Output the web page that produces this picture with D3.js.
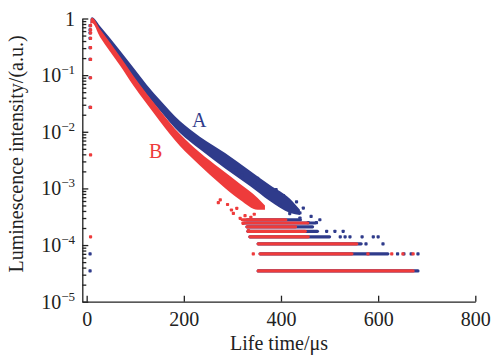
<!DOCTYPE html>
<html><head><meta charset="utf-8">
<script src="https://cdn.jsdelivr.net/npm/d3@7"></script>
<style>body{margin:0;background:#fff}svg{display:block}</style>
</head><body>
<svg id="c" width="492" height="358"></svg>
<script>
// ---------- data ----------
const xTicks = [0, 200, 400, 600, 800];
const yTicks = [1, 1e-1, 1e-2, 1e-3, 1e-4, 1e-5];
const yTickExp = ["", "−1", "−2", "−3", "−4", "−5"];
const seriesNames = ["A", "B"];

// dense decay band envelopes: [time µs, lower intensity, upper intensity]
const bandA = [
  [8, 0.80, 0.98], [10.9, 0.87, 1.05], [27.4, 0.533, 0.738], [48, 0.314, 0.452],
  [68.6, 0.189, 0.272], [95.3, 0.0927, 0.139], [124, 0.0447, 0.067], [151, 0.0235, 0.0365],
  [192, 0.0095, 0.0155], [233, 0.0049, 0.0082], [285, 0.00225, 0.0042],
  [336, 0.0011, 0.00205], [377, 0.0006, 0.00115], [419, 0.00037, 0.00065],
  [439, 0.00034, 0.00042]
];
const bandB = [
  [8, 0.75, 0.96], [10.9, 0.83, 1.03], [27.4, 0.471, 0.653], [48, 0.262, 0.377],
  [68.6, 0.148, 0.213], [95.3, 0.067, 0.10], [124, 0.031, 0.0465], [151, 0.0152, 0.0238],
  [192, 0.0056, 0.0091], [233, 0.00255, 0.0043], [274, 0.00122, 0.00226],
  [316, 0.000625, 0.0012], [352, 0.00042, 0.00068], [367, 0.00042, 0.0005]
];
// photon-count floor rows: [intensity, start µs, end µs]
const rowsA = [
  [3.5e-5, 353, 682], [7e-5, 357, 620], [1.05e-4, 353, 565], [1.4e-4, 336, 500],
  [1.75e-4, 332, 475], [2.1e-4, 330, 465], [2.45e-4, 325, 470], [2.8e-4, 330, 440]
];
const rowsB = [
  [3.5e-5, 353, 672], [7e-5, 357, 546], [1.05e-4, 353, 556], [1.4e-4, 336, 456],
  [1.75e-4, 332, 450], [2.1e-4, 330, 430], [2.45e-4, 322, 455], [2.8e-4, 320, 410]
];
// isolated points: [time µs, intensity]
const dotsA = [
  [7, 0.75], [7, 0.63], [7, 0.555], [7, 0.447], [7, 0.305], [7, 0.19], [7, 0.09],
  [7, 0.027], [7, 7e-5], [7, 3.5e-5],
  [308, 0.0021], [320, 0.0017], [346, 0.00123], [352, 0.0015], [374, 0.0008], [390, 0.00095],
  [398, 0.00051], [405, 0.00075], [418, 0.00036], [425, 0.00046], [432, 0.00058], [439, 0.00037],
  [439, 0.0003], [446, 0.00045], [456, 0.000248], [462, 0.00032], [473, 0.000248], [480, 0.00028],
  [494, 1.75e-4], [511, 1.75e-4], [528, 1.75e-4],
  [522, 1.4e-4], [532, 1.4e-4], [542, 1.4e-4], [567, 1.4e-4], [590, 1.4e-4], [600, 1.4e-4],
  [575, 1.05e-4], [610, 1.05e-4], [640, 7e-5], [653, 7e-5], [668, 7e-5], [682, 7e-5]
];
const dotsB = [
  [8, 0.75], [8, 0.63], [8, 0.555], [8, 0.447], [8, 0.305], [8, 0.19], [8, 0.09],
  [8, 0.027], [8, 0.0039], [8, 1.4e-4],
  [271, 0.00056], [275, 0.00063], [290, 0.00052], [298, 0.000416], [302, 0.000363],
  [309, 0.000446], [316, 0.000297], [322, 0.000242], [326, 0.00033], [333, 1.8e-4],
  [338, 0.00031], [343, 7e-5], [345, 0.00035], [579, 7e-5], [628, 7e-5], [651, 7e-5], [672, 7e-5]
];

// ---------- drawing ----------
const colA = "#2f3b8b", colB = "#ee3b3b";
const svg = d3.select("#c");
const x = d3.scaleLinear().domain([-9, 800]).range([82.3, 475.3]);
const y = d3.scaleLog().domain([1e-5, 1]).range([301.7, 18.5]);
const font = "'Liberation Serif','Times New Roman',serif";

const area = d3.area()
  .x(d => x(d[0])).y0(d => y(d[1])).y1(d => y(d[2]))
  .curve(d3.curveMonotoneX);

function drawSeries(band, rows, dots, col) {
  const g = svg.append("g");
  g.append("path").attr("d", area(band)).attr("fill", col);
  g.selectAll("line.row").data(rows).join("line")
    .attr("x1", d => x(d[1])).attr("x2", d => x(d[2]))
    .attr("y1", d => y(d[0])).attr("y2", d => y(d[0]))
    .attr("stroke", col).attr("stroke-width", 3.2).attr("stroke-linecap", "round");
  g.selectAll("rect").data(dots).join("rect")
    .attr("x", d => x(d[0]) - 1.6).attr("y", d => y(d[1]) - 1.6)
    .attr("width", 3.2).attr("height", 3.2).attr("rx", 0.8)
    .attr("fill", col);
}
drawSeries(bandA, rowsA, dotsA, colA);
drawSeries(bandB, rowsB, dotsB, colB);

// axes
const xAxis = d3.axisBottom(x).tickValues(xTicks).tickSize(-6).tickSizeOuter(0).tickPadding(10);
const gx = svg.append("g").attr("transform", `translate(0,${y(1e-5)})`).call(xAxis);
gx.selectAll("text").attr("font-family", font).attr("font-size", 20).attr("fill", "#222");

const minor = [];
for (let e = -5; e < 0; e++) for (let m = 2; m <= 9; m++) minor.push(m * Math.pow(10, e));
const yMinor = d3.axisLeft(y).tickValues(minor).tickSize(-4).tickSizeOuter(0).tickFormat("");
const gym = svg.append("g").attr("transform", `translate(${x(-9)},0)`).call(yMinor);
gym.select(".domain").remove();
const yAxis = d3.axisLeft(y).tickValues(yTicks).tickSize(-6).tickSizeOuter(0).tickFormat("");
const gy = svg.append("g").attr("transform", `translate(${x(-9)},0)`).call(yAxis);
[gx, gy, gym].forEach(g => {
  g.selectAll("path,line").attr("stroke", "#222").attr("stroke-width", 1.3);
});

// y tick labels
yTicks.forEach((v, i) => {
  const t = svg.append("text").attr("x", 75).attr("y", y(v) + 7)
    .attr("text-anchor", "end").attr("font-family", font).attr("font-size", 20).attr("fill", "#222");
  if (yTickExp[i] === "") { t.text("1"); }
  else {
    t.append("tspan").text("10");
    t.append("tspan").attr("font-size", 13).attr("dy", -8).text(yTickExp[i]);
  }
});

// titles
svg.append("text").attr("x", 279).attr("y", 350).attr("text-anchor", "middle")
  .attr("font-family", font).attr("font-size", 20).attr("fill", "#222").text("Life time/μs");
svg.append("text").attr("transform", "translate(23,154) rotate(-90)").attr("text-anchor", "middle")
  .attr("font-family", font).attr("font-size", 20).attr("fill", "#222").text("Luminescence intensity/(a.u.)");

// series labels
svg.append("text").attr("x", 192).attr("y", 127).attr("font-family", font).attr("font-size", 20)
  .attr("fill", colA).text(seriesNames[0]);
svg.append("text").attr("x", 149).attr("y", 158).attr("font-family", font).attr("font-size", 20)
  .attr("fill", colB).text(seriesNames[1]);
</script>
</body></html>
